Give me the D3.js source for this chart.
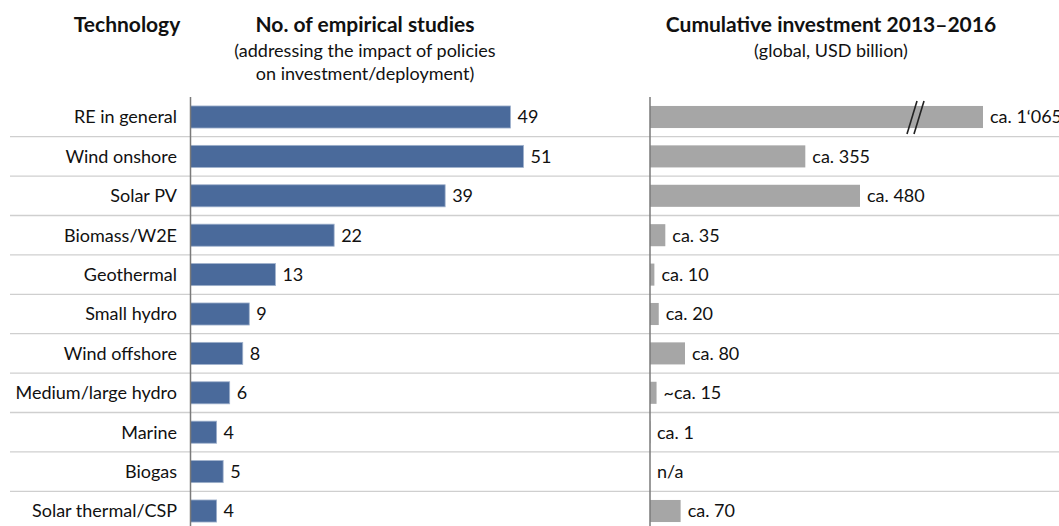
<!DOCTYPE html>
<html>
  <head>
    <script src="https://d3js.org/d3.v7.min.js"></script>
  </head>
  <body style="margin:0;background:#fff;">
    <div id="chart"></div>
<style>
  text { font-family: Lato, "Open Sans", sans-serif; fill: #111; }
  .hdr { font-weight: bold; font-size: 21px; }
  .sub { font-size: 18px; }
  .lbl { font-size: 18px; }
</style>
    <script>
      // data
      const technologies = ["RE in general", "Wind onshore", "Solar PV", "Biomass/W2E", "Geothermal",
        "Small hydro", "Wind offshore", "Medium/large hydro", "Marine", "Biogas", "Solar thermal/CSP"];
      const studies = [49, 51, 39, 22, 13, 9, 8, 6, 4, 5, 4];
      const investment = [1065, 355, 480, 35, 10, 20, 80, 15, 1, null, 70];
      const investmentLabels = ["ca. 1‘065", "ca. 355", "ca. 480", "ca. 35", "ca. 10", "ca. 20",
        "ca. 80", "~ca. 15", "ca. 1", "n/a", "ca. 70"];

      const width = 1059;
      const height = 526;

      const svg = d3.create("svg")
        .attr("width", width)
        .attr("height", height);

      // rows
      const y = d3.scaleBand()
        .domain(technologies)
        .range([97.3, 530.7])
        .paddingInner(0.44)
        .paddingOuter(0.22);

      const x1 = d3.scaleLinear().domain([0, 51]).range([190.5, 523.5]);
      // broken axis for the investment column (bar for 1'065 is cut)
      const x2 = d3.scaleLinear().domain([0, 480, 620, 1065]).range([650, 860, 921, 983]);

      // row separators
      const step = y.step();
      svg.append("g")
        .selectAll("line")
        .data(d3.range(1, technologies.length + 1))
        .join("line")
        .attr("x1", 10)
        .attr("x2", width)
        .attr("y1", i => 97.3 + i * step)
        .attr("y2", i => 97.3 + i * step)
        .attr("stroke", "#cfcfcf")
        .attr("stroke-width", 1.3);

      // headers
      const hdr = svg.append("g").attr("text-anchor", "middle");
      hdr.append("text").attr("class", "hdr").attr("x", 127).attr("y", 32).text("Technology");
      hdr.append("text").attr("class", "hdr").attr("x", 365).attr("y", 32).text("No. of empirical studies");
      hdr.append("text").attr("class", "sub").attr("x", 365).attr("y", 57).text("(addressing the impact of policies");
      hdr.append("text").attr("class", "sub").attr("x", 365).attr("y", 80).text("on investment/deployment)");
      hdr.append("text").attr("class", "hdr").attr("x", 831).attr("y", 32).text("Cumulative investment 2013–2016");
      hdr.append("text").attr("class", "sub").attr("x", 831).attr("y", 57).text("(global, USD billion)");

      // category labels
      svg.append("g")
        .selectAll("text")
        .data(technologies)
        .join("text")
        .attr("class", "lbl")
        .attr("x", 177)
        .attr("y", d => y(d) + y.bandwidth() / 2)
        .attr("dy", "0.35em")
        .attr("text-anchor", "end")
        .text(d => d);

      // studies bars
      svg.append("g")
        .selectAll("rect")
        .data(studies)
        .join("rect")
        .attr("x", x1(0))
        .attr("y", (d, i) => y(technologies[i]))
        .attr("width", d => x1(d) - x1(0))
        .attr("height", y.bandwidth())
        .attr("fill", "#4a6a9b")
        .attr("stroke", "#9fb1cc")
        .attr("stroke-width", 0.8);

      svg.append("g")
        .selectAll("text")
        .data(studies)
        .join("text")
        .attr("class", "lbl")
        .attr("x", d => x1(d) + 7)
        .attr("y", (d, i) => y(technologies[i]) + y.bandwidth() / 2)
        .attr("dy", "0.35em")
        .text(d => d);

      // investment bars
      svg.append("g")
        .selectAll("rect")
        .data(investment)
        .join("rect")
        .attr("x", x2(0))
        .attr("y", (d, i) => y(technologies[i]))
        .attr("width", d => d == null ? 0 : x2(d) - x2(0))
        .attr("height", y.bandwidth())
        .attr("fill", "#a6a6a6");

      svg.append("g")
        .selectAll("text")
        .data(investment)
        .join("text")
        .attr("class", "lbl")
        .attr("x", d => (d == null || d < 5 ? x2(0) : x2(d)) + 7)
        .attr("y", (d, i) => y(technologies[i]) + y.bandwidth() / 2)
        .attr("dy", "0.35em")
        .text((d, i) => investmentLabels[i]);

      // break marks on the cut bar
      const yb = y(technologies[0]);
      const brk = svg.append("g");
      [x2(620) - 7, x2(620)].forEach(bx => {
        brk.append("line")
          .attr("x1", bx - 7).attr("y1", yb + y.bandwidth() + 6)
          .attr("x2", bx + 3).attr("y2", yb - 5)
          .attr("stroke", "#222")
          .attr("stroke-width", 1.6);
      });

      // axes (just the vertical lines)
      [x1(0), x2(0)].forEach(ax => {
        svg.append("line")
          .attr("x1", ax).attr("x2", ax)
          .attr("y1", 97).attr("y2", height)
          .attr("stroke", "#7a7a7a")
          .attr("stroke-width", 1.5);
      });

      document.getElementById("chart").appendChild(svg.node());
    </script>
  </body>
</html>
